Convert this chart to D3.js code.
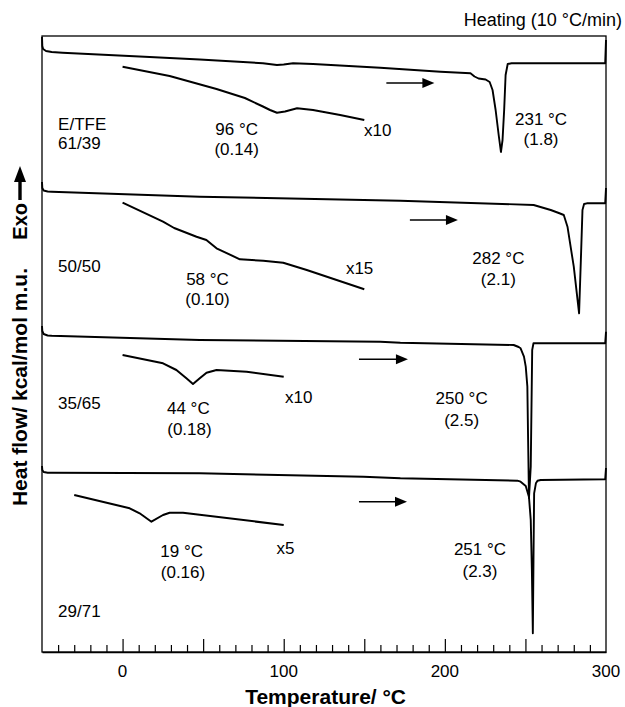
<!DOCTYPE html>
<html><head><meta charset="utf-8">
<script src="https://cdn.jsdelivr.net/npm/d3@7"></script>
<style>
body{margin:0;background:#fff}
svg{display:block}
text{font-family:"Liberation Sans",Arial,Helvetica,sans-serif;fill:#000}
</style>
</head><body>
<svg id="c" width="625" height="707"></svg>
<script>
// ---------- data (temperature °C, heat flow a.u.) ----------
const xLabelTicks = [0, 100, 200, 300];
const xMajorTicks = [0, 50, 100, 150, 200, 250];
const xMinorTicks = d3.range(-40, 300, 10).filter(t => t % 50 !== 0);

const trace1 = [[-50,615],[-49.8,606],[-49.3,603],[-47.5,601],[-44,600],[-37.3,599.3],[16.8,595],[47.9,592.5],[87.1,588.8],[95.8,587],[100,587.5],[105.8,588.7],[118.2,588],[159.9,584.3],[197.3,580.3],[215.9,578.7],[218.4,575.5],[220.9,573.5],[225.3,572.5],[227.8,570],[229.6,562],[231.5,542],[233.4,517],[234.8,500],[235.8,512],[236.8,542],[237.7,577],[239,588],[241.4,588.7],[299.5,588.7],[300,612]];
const inset1 = [[0,585.3],[29.2,576],[58.3,563],[75.9,554],[87.1,545.5],[91.5,542],[95.8,539.3],[100.8,540.5],[108.3,543.7],[118.2,542],[135,537],[150,532]];

const trace2 = [[-50,470],[-49.8,464],[-49,461.5],[-46.5,460.5],[-44,460.3],[47.9,455.3],[172.4,451.3],[255.1,447],[265.7,442],[270.7,439],[273.8,437],[276.1,425.3],[280,385.3],[283.3,338.7],[284.4,392],[285.4,442],[286.4,448],[288.1,448.7],[299.5,448.7],[300,464]];
const inset2 = [[0,449.3],[25.1,430.3],[32,424],[45.9,415.3],[52,412],[58.3,403.7],[72.8,392.7],[87.3,391.3],[99.7,389.3],[114.3,382],[150,362.7]];

const trace3 = [[-50,326],[-49.8,321],[-49,318],[-46.5,316.5],[-44,316.2],[47.9,312],[159.9,310.3],[172.4,309.3],[242.7,307],[245.8,305],[247,303.7],[249.1,295.3],[250.2,285.3],[251.2,265.3],[251.6,219],[252.2,154],[253.3,185.3],[254.2,302],[255,308.7],[299.5,308.7],[300,320.3]];
const inset3 = [[0,297],[25.1,288.7],[33.4,282],[39.6,273.7],[43.7,268],[47.9,273.7],[52.1,279.3],[58.3,282],[77,280.3],[100,275.3]];

const trace4 = [[-50,186],[-49.8,182],[-49,180],[-46.5,179.3],[-44,179.2],[47.9,178.7],[149.5,175.3],[172.4,173.7],[245,171.3],[247,170.3],[250.2,166],[252.2,155],[253.3,132],[254,82],[254.6,18.7],[255,92],[255.4,158.7],[256.5,168.7],[257.5,171.3],[259.5,172],[299.5,172.7],[300,184]];
const inset4 = [[-30,157],[4.4,143.7],[10.6,138.7],[17.9,130.3],[25.1,137],[29.2,139.3],[37.5,139.3],[100,127]];

const traces = [trace1, trace2, trace3, trace4];
const insets = [inset1, inset2, inset3, inset4];

// arrows: [T start, T end, level]
const arrows = [[163.7,193.5,569],[178.3,208.1,432],[146.7,177.1,292.7],[146.7,176.5,150.3]];

// labels: [text, T, level]
const sampleLabels = [["E/TFE",-40,522.5],["61/39",-40,503],["50/50",-40,380],["35/65",-40,243],["29/71",-40,35]];
const tgLabels = [["96 °C",70.8,517],["(0.14)",70.8,497.5],["58 °C",52.7,367],["(0.10)",52.7,347.5],["44 °C",40.8,238],["(0.18)",41.5,217],["19 °C",36.7,95],["(0.16)",37.5,74]];
const factorLabels = [["x10",149.8,516],["x15",138.6,378],["x10",100.8,249],["x5",95.6,98]];
const tmLabels = [["231 °C",259.7,527],["(1.8)",259.7,507],["282 °C",233.2,388],["(2.1)",233.2,367],["250 °C",210.4,248],["(2.5)",210.4,226],["251 °C",221.8,97],["(2.3)",221.8,75]];

// ---------- drawing ----------
const svg = d3.select("#c");
const x = d3.scaleLinear().domain([-50, 300]).range([42, 606]);
const y = d3.scaleLinear().domain([0, 616]).range([652, 36]);

const line = d3.line().x(d => x(d[0])).y(d => y(d[1])).curve(d3.curveLinear);

// frame
svg.append("rect").attr("x", x(-50)).attr("y", y(616)).attr("width", x(300) - x(-50)).attr("height", y(0) - y(616))
  .attr("fill", "none").attr("stroke", "#000").attr("stroke-width", 1.3);

// axis ticks (inward)
svg.append("g").attr("transform", `translate(0,${y(0)})`)
  .call(d3.axisBottom(x).tickValues(xMinorTicks).tickSize(-7).tickSizeOuter(0).tickFormat(""))
  .call(g => g.select(".domain").attr("stroke-width", 1.5))
  .call(g => g.selectAll(".tick line").attr("stroke-width", 1.2));
svg.append("g").attr("transform", `translate(0,${y(0)})`)
  .call(d3.axisBottom(x).tickValues(xMajorTicks).tickSize(-13).tickSizeOuter(0).tickFormat(""))
  .call(g => g.select(".domain").remove())
  .call(g => g.selectAll(".tick line").attr("stroke-width", 1.2));
svg.append("g").selectAll("text").data(xLabelTicks).join("text")
  .attr("x", d => x(d)).attr("y", y(0) + 25).attr("text-anchor", "middle")
  .attr("font-size", 17).text(d => d);

// axis titles
svg.append("text").attr("x", x(126)).attr("y", 704).attr("text-anchor", "middle")
  .attr("font-size", 21).attr("font-weight", "bold").text("Temperature/ °C");
svg.append("text").attr("x", 622).attr("y", 26).attr("text-anchor", "end")
  .attr("font-size", 18).text("Heating (10 °C/min)");

const yl = svg.append("g").attr("transform", "translate(27,0) rotate(-90)");
yl.append("text").attr("x", -268).attr("y", 0).attr("text-anchor", "end")
  .attr("font-size", 21).attr("font-weight", "bold")
  .text("Heat flow/ kcal/mol m.u.");
yl.append("text").attr("x", -203).attr("y", 0).attr("text-anchor", "end")
  .attr("font-size", 20).attr("font-weight", "bold")
  .text("Exo");
// Exo arrow
svg.append("line").attr("x1", 20).attr("x2", 20).attr("y1", 200).attr("y2", 180)
  .attr("stroke", "#000").attr("stroke-width", 3.4);
svg.append("path").attr("d", "M14,182 L26,182 L20,166 Z").attr("fill", "#000");

// traces
svg.append("g").selectAll("path.trace").data(traces).join("path").attr("class", "trace")
  .attr("d", line).attr("fill", "none").attr("stroke", "#000").attr("stroke-width", 1.9)
  .attr("stroke-linejoin", "round");
svg.append("g").selectAll("path.inset").data(insets).join("path").attr("class", "inset")
  .attr("d", line).attr("fill", "none").attr("stroke", "#000").attr("stroke-width", 2)
  .attr("stroke-linejoin", "round");

// arrows
const ag = svg.append("g");
arrows.forEach(a => {
  const x1 = x(a[0]), x2 = x(a[1]), yy = y(a[2]);
  ag.append("line").attr("x1", x1).attr("x2", x2 - 9).attr("y1", yy).attr("y2", yy)
    .attr("stroke", "#000").attr("stroke-width", 1.6);
  ag.append("path").attr("d", `M${x2 - 12},${yy - 5} L${x2},${yy} L${x2 - 12},${yy + 5} Z`).attr("fill", "#000");
});

// labels
const lg = svg.append("g").attr("font-size", 17);
sampleLabels.forEach(l => lg.append("text").attr("x", x(l[1])).attr("y", y(l[2])).attr("text-anchor", "start").text(l[0]));
tgLabels.forEach(l => lg.append("text").attr("x", x(l[1])).attr("y", y(l[2])).attr("text-anchor", "middle").text(l[0]));
factorLabels.forEach(l => lg.append("text").attr("x", x(l[1])).attr("y", y(l[2])).attr("text-anchor", "start").text(l[0]));
tmLabels.forEach(l => lg.append("text").attr("x", x(l[1])).attr("y", y(l[2])).attr("text-anchor", "middle").text(l[0]));
</script>
</body></html>
